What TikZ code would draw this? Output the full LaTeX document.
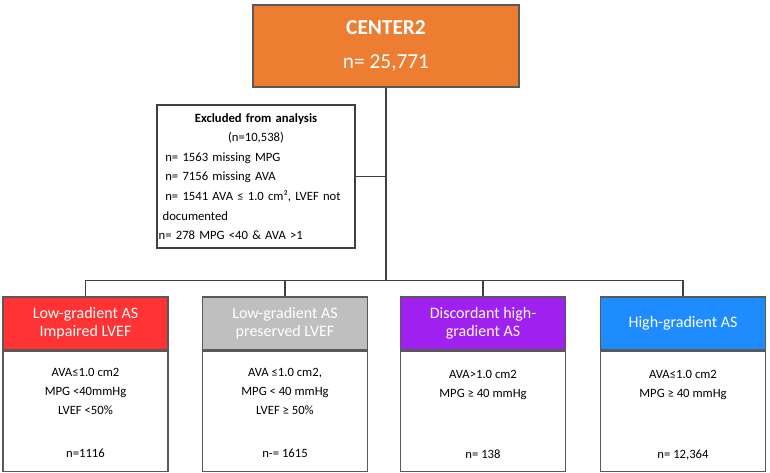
\documentclass[tikz,border=0pt]{standalone}
\usepackage{fontspec}
\setmainfont{Carlito}
\usepackage{tikz}
\usetikzlibrary{calc, positioning}

\definecolor{boxorange}{HTML}{ED7D31}
\definecolor{headred}{HTML}{FF3333}
\definecolor{headgray}{HTML}{BFBFBF}
\definecolor{headpurple}{HTML}{A020F0}
\definecolor{headblue}{HTML}{1E8CFF}
\definecolor{edgegray}{HTML}{595959}
\definecolor{linegray}{HTML}{404040}

\begin{document}
\begin{tikzpicture}[x=0.75pt, y=-0.75pt,
        link/.style={draw=linegray, line width=0.8pt},
        head/.style={draw=edgegray, line width=0.8pt, minimum width=123.75pt, minimum height=39.75pt,
            inner sep=0pt, text=white, align=center, font=\fontsize{12}{13.8}\selectfont},
        body/.style={draw=edgegray, line width=0.8pt, minimum width=123.75pt, minimum height=90pt, inner sep=0pt},
        cond/.style={anchor=north, inner sep=0pt, align=center, font=\fontsize{9.5}{14.6}\selectfont},
        count/.style={inner sep=0pt, font=\fontsize{9.5}{11}\selectfont}]
                \useasboundingbox (0,0) rectangle (770,472);
                % top box and excluded patients
                \node[draw=edgegray, line width=0.8pt, fill=boxorange, minimum width=199.5pt, minimum height=61.5pt,
                    text=white, align=center, font=\fontsize{16}{25.5}\selectfont] (center) at (386,46)
                    {\textbf{CENTER2}\\n= 25,771};
                \node[draw=linegray, line width=0.8pt, minimum width=148.5pt, minimum height=107.25pt, inner xsep=1.25pt,
                    text width=146pt, align=left, font=\fontsize{9.5}{14.7}\selectfont] (excl) at (256,176.5)
                    {\makebox[\linewidth]{\textbf{Excluded from analysis}}\\
                     \makebox[\linewidth]{(n=10,538)}\\
                     \hspace*{5pt}n= 1563 missing MPG\\
                     \hspace*{5pt}n= 7156 missing AVA\\
                     \hspace*{5pt}n= 1541 AVA ≤ 1.0 cm², LVEF not\\
                     \hspace*{3pt}documented\\
                     n= 278 MPG <40 \& AVA >1};
                \coordinate (split) at (386,280.5);
                % the four groups
                \node[head, fill=headred] (h1) at (85.5,323.5) {Low-gradient AS\\Impaired LVEF};
                \node[head, fill=headgray] (h2) at (285,323.5) {Low-gradient AS\\preserved LVEF};
                \node[head, fill=headpurple] (h3) at (483,323.5) {Discordant high-\\gradient AS};
                \node[head, fill=headblue] (h4) at (683,323.5) {High-gradient AS};
                \node[body, below=0pt of h1] (b1) {};
                \node[body, below=0pt of h2] (b2) {};
                \node[body, below=0pt of h3] (b3) {};
                \node[body, below=0pt of h4] (b4) {};
                \node[cond] (c1) at ($(b1.north)+(0,17)$) {AVA≤1.0 cm2\\MPG <40mmHg\\LVEF <50\%};
                \node[cond] (c2) at ($(b2.north)+(0,17)$) {AVA ≤1.0 cm2,\\MPG < 40 mmHg\\LVEF ≥ 50\%};
                \node[cond] (c3) at ($(b3.north)+(0,19)$) {AVA>1.0 cm2\\MPG ≥ 40 mmHg};
                \node[cond] (c4) at ($(b4.north)+(0,19)$) {AVA≤1.0 cm2\\MPG ≥ 40 mmHg};
                \node[count] (n1) at ($(b1.south)+(0,-18)$) {n=1116};
                \node[count] (n2) at ($(b2.south)+(0,-18)$) {n-= 1615};
                \node[count] (n3) at ($(b3.south)+(0,-17)$) {n= 138};
                \node[count] (n4) at ($(b4.south)+(0,-17)$) {n= 12,364};
                % connectors
                \draw[link] (center.south) -- (split);
                \draw[link] (excl.east) -- (excl.east -| center.south);
                \foreach \g in {h1,h2,h3,h4}
                    \draw[link] (split) -| (\g.north);
            \end{tikzpicture}
\end{document}
